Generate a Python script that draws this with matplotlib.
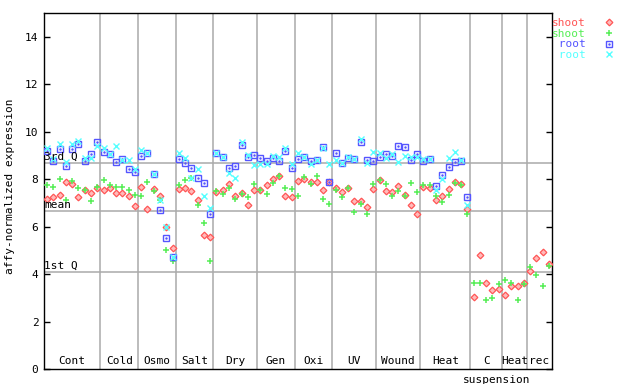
import matplotlib.pyplot as plt
from matplotlib.lines import Line2D
from matplotlib.legend_handler import HandlerTuple

plt.rcParams['font.family'] = ['DejaVu Sans Mono', 'DejaVu Sans']
plt.rcParams['font.size'] = 8

# experiment groups along the x axis and how many samples each has
groups = ['Cont', 'Cold', 'Osmo', 'Salt', 'Dry', 'Gen', 'Oxi', 'UV',
          'Wound', 'Heat', 'C', 'Heat', 'rec']
group_sizes = [9, 6, 6, 6, 7, 6, 6, 7, 7, 8, 5, 4, 4]

# values
shoot_red = [7.18, 7.25, 7.35, 7.87, 7.80, 7.25, 7.53, 7.42, 7.63,
             7.55, 7.63, 7.42, 7.42, 7.31, 6.87,
             7.67, 6.75, 7.60, 7.28, 5.99, 5.08,
             7.59, 7.63, 7.50, 7.14, 5.65, 5.57,
             7.45, 7.55, 7.81, 7.31, 7.42, 6.93, 7.56,
             7.56, 7.74, 8.02, 8.15, 7.31, 7.25,
             7.94, 8.02, 7.88, 7.88, 7.55, 7.86,
             7.63, 7.45, 7.63, 7.06, 7.06, 6.83, 7.59,
             7.98, 7.48, 7.45, 7.73, 7.35, 6.89, 6.51,
             7.67, 7.63, 7.10, 7.31, 7.59, 7.88, 7.81, 6.76,
             3.04, 4.82, 3.63, 3.32, 3.38,
             3.10, 3.50, 3.50, 3.63,
             4.12, 4.68, 4.94, 4.42]
shoot_green = [7.74, 7.67, 8.02, 7.10, 7.94, 7.64, 7.55, 7.08, 7.65,
               7.95, 7.74, 7.67, 7.67, 7.55, 7.35,
               7.31, 7.88, 7.52, 7.11, 5.03, 4.57,
               7.77, 7.95, 8.05, 6.90, 6.16, 4.57,
               7.49, 7.39, 7.63, 7.17, 7.39, 7.25, 7.81,
               7.53, 7.38, 7.84, 8.12, 7.63, 7.59,
               7.31, 8.10, 7.81, 8.14, 7.17, 6.97,
               7.56, 7.25, 7.63, 6.62, 6.97, 6.54, 7.81,
               7.98, 7.81, 7.31, 7.49, 7.31, 7.84, 7.46,
               7.74, 7.74, 7.28, 7.04, 7.35, 7.84, 7.77, 6.54,
               3.63, 3.63, 2.91, 3.00, 3.59,
               3.74, 3.63, 2.91, 3.59,
               4.29, 3.94, 3.50, 4.36]
root_blue = [9.20, 8.78, 9.25, 8.57, 9.28, 9.46, 8.78, 9.06, 9.55,
             9.13, 9.06, 8.73, 8.85, 8.43, 8.29,
             8.99, 9.11, 8.22, 6.72, 5.53, 4.73,
             8.85, 8.69, 8.47, 8.05, 7.84, 6.55,
             9.11, 8.95, 8.47, 8.57, 9.45, 8.95, 9.00,
             8.90, 8.78, 8.90, 8.78, 9.20, 8.47,
             8.85, 8.94, 8.78, 8.82, 9.35, 7.86,
             9.11, 8.69, 8.90, 8.85, 9.57, 8.82, 8.78,
             8.94, 9.06, 8.99, 9.39, 9.36, 8.82, 9.06,
             8.78, 8.85, 7.73, 8.19, 8.52, 8.73, 8.78, 7.25]
root_cyan = [9.32, 8.85, 9.46, 8.73, 9.46, 9.60, 8.90, 8.90, 9.41,
             9.32, 9.06, 9.39, 8.80, 8.82, 8.43,
             9.22, 9.11, 8.22, 7.14, 5.99, 4.73,
             9.11, 8.90, 8.05, 8.43, 7.28, 6.79,
             9.11, 8.94, 8.26, 8.05, 9.57, 9.01, 8.61,
             8.62, 8.65, 8.97, 8.95, 9.30, 8.62,
             9.11, 8.94, 8.64, 8.82, 9.32, 8.65,
             8.82, 8.69, 8.94, 8.85, 9.71, 8.69, 9.15,
             9.11, 8.90, 9.06, 8.73, 8.99, 8.94, 8.94,
             8.85, 8.85, 7.56, 8.02, 8.90, 9.15, 8.82, 6.90]

quartiles = {'3rd Q': 8.69, 'mean': 6.64, '1st Q': 4.09}

red, green, blue, cyan = '#ff5555', '#55ee55', '#5555ff', '#55ffff'
grid_gray = '#aaaaaa'

fig = plt.figure(figsize=(6.4, 3.84), dpi=100)
ax = fig.add_axes([44 / 640, 15 / 384, 508 / 640, 356 / 384])

n = sum(group_sizes)
x_shoot = [i + 0.5 for i in range(len(shoot_red))]
x_root = [i + 0.5 for i in range(len(root_blue))]

# group separators
edges = []
total = 0
for s in group_sizes[:-1]:
    total += s
    edges.append(total)
for e in edges:
    ax.axvline(e, color=grid_gray, lw=1.1, zorder=1)

# quartile lines and their labels
for name, val in quartiles.items():
    ax.axhline(val, color=grid_gray, lw=1.1, zorder=1)
    ax.text(0.05, val + 0.04, name, ha='left', va='bottom', zorder=5)

# marker styles
red_kw = dict(marker='D', ls='none', ms=3.4, mfc='#ffbbbb', mec=red, mew=0.9)
green_kw = dict(marker='+', ls='none', ms=5, mec=green, mew=1.1)
sq_kw = dict(marker='s', ls='none', ms=4.2, mfc='none', mec=blue, mew=1.0)
dot_kw = dict(marker='.', ls='none', ms=1.5, color=blue)
cyan_kw = dict(marker='x', ls='none', ms=3.8, mec=cyan, mew=1.0)

ax.plot(x_shoot, shoot_red, zorder=3, **red_kw)
ax.plot(x_shoot, shoot_green, zorder=3, **green_kw)
ax.plot(x_root, root_blue, zorder=4, **sq_kw)
ax.plot(x_root, root_blue, zorder=4, **dot_kw)
ax.plot(x_root, root_cyan, zorder=4, **cyan_kw)

# group names inside the bottom of the plot
start = 0
for g, s in zip(groups, group_sizes):
    ax.text(start + s / 2, 0.12, g, ha='center', va='bottom')
    start += s
ax.text(72.2, -0.45, 'suspension', ha='center', va='center', clip_on=False)

ax.set_xlim(0, n)
ax.set_ylim(0, 15)
ax.set_xticks([])
ax.set_yticks(range(0, 15, 2))
ax.tick_params(axis='y', direction='in', left=True, right=True, length=4,
               width=1, pad=4)
for sp in ax.spines.values():
    sp.set_linewidth(1.0)

fig.text(10 / 640, 0.515, 'affy-normalized expression', rotation=90,
         ha='center', va='center')

# legend: coloured labels, markers on the right
h_red = Line2D([], [], **red_kw)
h_green = Line2D([], [], **green_kw)
h_sq = Line2D([], [], **sq_kw)
h_dot = Line2D([], [], **dot_kw)
h_cyan = Line2D([], [], **cyan_kw)
leg = ax.legend([h_red, h_green, (h_sq, h_dot), h_cyan],
                ['shoot', 'shoot', ' root', ' root'],
                handler_map={tuple: HandlerTuple(ndivide=1, pad=0)},
                loc='upper left', bbox_to_anchor=(1.0, 0.985), frameon=False,
                markerfirst=False, borderpad=0, borderaxespad=0,
                handlelength=1, handletextpad=1.6, labelspacing=0.05)
for t, c in zip(leg.get_texts(), [red, green, blue, cyan]):
    t.set_color(c)

fig.savefig('out.png', dpi=100)
